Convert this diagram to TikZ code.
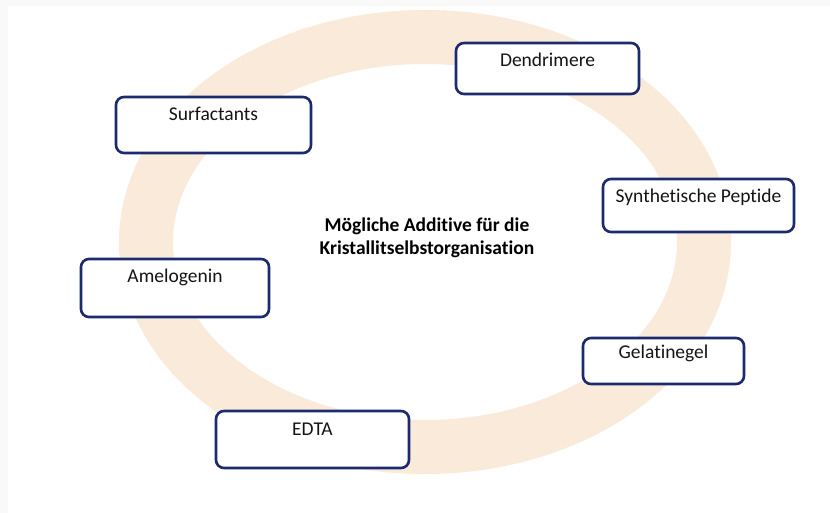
\documentclass[tikz,border=0pt]{standalone}
\usepackage{fontspec}
\setmainfont{Carlito}[Ligatures=NoCommon]
\usepackage{tikz}
\usetikzlibrary{positioning}
\definecolor{ringbeige}{RGB}{249,234,218}
\definecolor{boxnavy}{RGB}{28,42,112}
\definecolor{textgray}{RGB}{20,20,20}
\tikzstyle{every node}+=[inner sep=0pt]
\tikzstyle{additive} = [rectangle, draw=boxnavy, line width=2.6pt, fill=white, text=textgray, rounded corners=8pt, text height=24pt, font=\fontsize{19.5}{21}\selectfont]
\tikzstyle{title} = [align=center, text=black, font=\fontsize{19.5}{23}\selectfont\bfseries]

\begin{document}
\begin{tikzpicture}[x=1pt, y=-1pt]
          \useasboundingbox (0,0) rectangle (830,513);
          % Background
          \fill [gray!5] (0,0) rectangle (830,513);
          \fill [white] (8,6) rectangle (830,513);
          % Draw ring
          \draw [ringbeige, line width=54pt] (425,242) ellipse [x radius=279, y radius=205];
          % Place nodes
          \node [title] (center) at (427,238) {M\"ogliche Additive f\"ur die\\Kristallitselbstorganisation};
          \node [additive, minimum width=195pt, text depth=32pt] (surf) at (213.5,125) {Surfactants};
          \node [additive, minimum width=183pt, text depth=27pt] (dend) at (547.5,68.5) {Dendrimere};
          \node [additive, minimum width=191pt, text depth=29pt] (pept) at (698.5,205.5) {Synthetische Peptide};
          \node [additive, minimum width=188pt, text depth=34pt] (amel) at (175,288) {Amelogenin};
          \node [additive, minimum width=161pt, text height=20pt, text depth=26pt] (gel) at (663.5,361) {Gelatinegel};
          \node [additive, minimum width=193pt, text depth=33pt] (edta) at (312.5,439.5) {EDTA};
        \end{tikzpicture}
\end{document}
